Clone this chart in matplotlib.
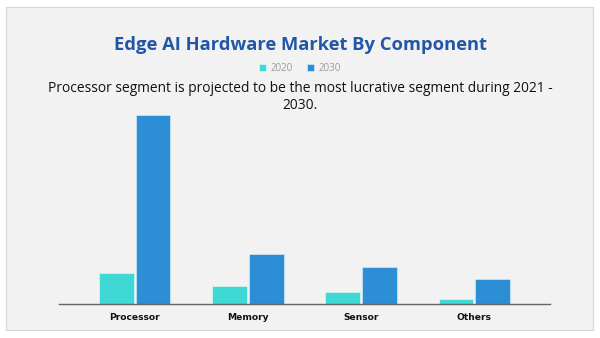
import matplotlib
matplotlib.use("Agg")
import matplotlib.pyplot as plt
from matplotlib.patches import Rectangle
import numpy as np

# Market size by component (relative units)
categories = ["Processor", "Memory", "Sensor", "Others"]
series_names = ["2020", "2030"]
values_2020 = [31.0, 18.6, 12.0, 5.6]
values_2030 = [189.3, 50.3, 37.6, 25.3]

title = "Edge AI Hardware Market By Component"
subtitle = "Processor segment is projected to be the most lucrative segment during 2021 -\n2030."

c2020 = "#3fd8d4"
c2030 = "#2c8fd6"
panel_bg = "#f2f2f2"

W, H = 600, 338
fig = plt.figure(figsize=(W / 100, H / 100), dpi=100)
fig.patch.set_facecolor("white")

# light grey card behind the chart
card = Rectangle((6 / W, 1 - 330 / H), 587 / W, 323 / H,
                 transform=fig.transFigure, facecolor=panel_bg,
                 edgecolor="#d6d6d6", linewidth=0.8, zorder=-5)
fig.add_artist(card)

ax = fig.add_axes([59 / W, 1 - 304.3 / H, 491 / W, 189.3 / H])
ax.set_facecolor("none")
ax.set_zorder(2)

x = np.arange(len(categories))
bw = 0.305
off = 0.162
ax.bar(x - off, values_2020, width=bw, color=c2020, edgecolor="#e8fbfb",
       linewidth=0.4, label=series_names[0], zorder=2)
ax.bar(x + off, values_2030, width=bw, color=c2030, edgecolor="#e3f0fa",
       linewidth=0.4, label=series_names[1], zorder=2)

ax.set_xlim(-0.67, 3.67)
ax.set_ylim(0, max(values_2030))
for s in ["top", "right", "left"]:
    ax.spines[s].set_visible(False)
ax.spines["bottom"].set_color("#666666")
ax.spines["bottom"].set_linewidth(1.0)
ax.set_yticks([])
ax.set_xticks(x)
ax.set_xticklabels(categories, fontfamily="DejaVu Sans", fontweight="bold",
                   fontsize=6.6, color="#111111")
ax.tick_params(axis="x", length=0, pad=6)

fig.text(0.5, 1 - 45 / H, title, ha="center", va="center",
         fontfamily="Open Sans", fontweight="bold", fontsize=13.2,
         color="#2256a6", zorder=3)

# legend
leg = fig.legend(handles=ax.get_legend_handles_labels()[0],
                 labels=series_names, loc="center",
                 bbox_to_anchor=(0.5, 1 - 68.5 / H), ncol=2, frameon=False,
                 handlelength=0.75, handleheight=0.75,
                 handletextpad=0.5, columnspacing=1.4,
                 prop={"family": "Open Sans", "size": 7})
leg.set_zorder(3)
for t in leg.get_texts():
    t.set_color("#9a9a9a")

fig.text(0.5, 1 - 97 / H, subtitle, ha="center", va="center",
         fontfamily="Open Sans", fontsize=9.9, color="#111111",
         linespacing=1.22, zorder=3)

fig.savefig("out.png", dpi=100, facecolor=fig.get_facecolor())
